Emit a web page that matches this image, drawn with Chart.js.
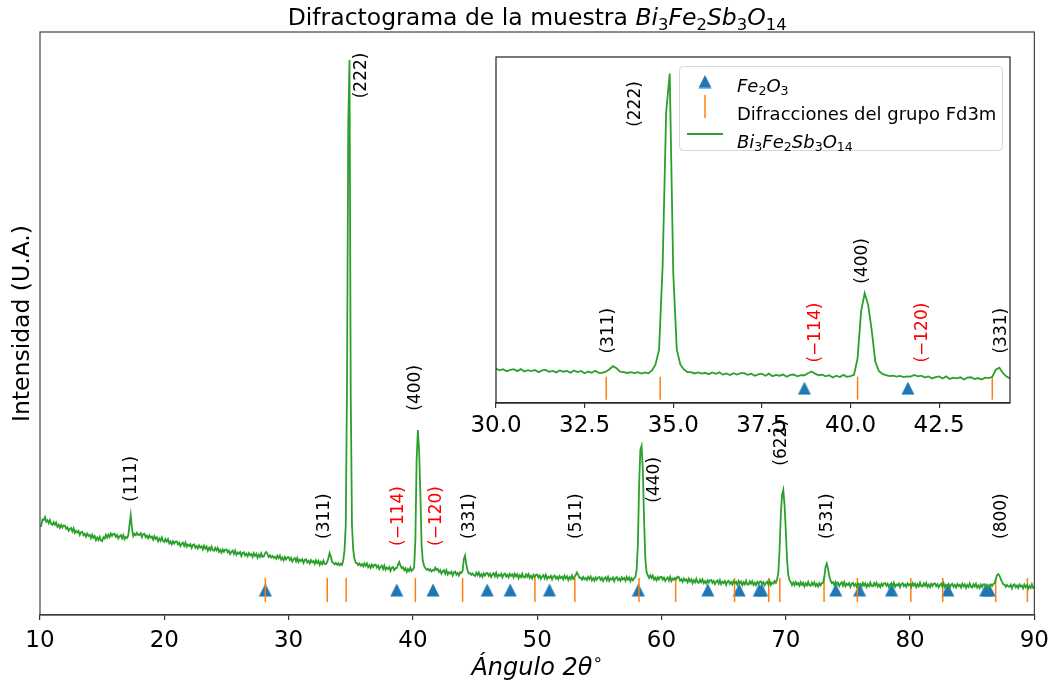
<!DOCTYPE html>
<html lang="es">
<head>
<meta charset="utf-8">
<title>Difractograma Bi3Fe2Sb3O14</title>
<script src="https://cdn.jsdelivr.net/npm/chart.js@4.4.1/dist/chart.umd.min.js"></script>
<style>
  html, body { margin: 0; padding: 0; background: #fff; }
  #lienzo { position: relative; width: 1056px; height: 682px; }
  #principal { position: absolute; left: 0; top: 0; }
  #detalle { position: absolute; left: 456px; top: 40px; }
</style>
</head>
<body>
<div id="lienzo">
  <canvas id="principal" width="1056" height="682"></canvas>
  <canvas id="detalle" width="580" height="400"></canvas>
</div>
<script>
// barrido: 2theta desde 10 hasta 90 grados, paso 0.1
const inicio2theta = 10;
const paso2theta = 0.1;
const cuentas = [
  890, 892, 955, 949, 980, 933, 948, 918, 949, 910,   // 10
  901, 929, 902, 925, 883, 901, 871, 901, 875, 896,   // 11
  895, 863, 878, 842, 861, 871, 835, 866, 822, 841,   // 12
  824, 840, 800, 828, 832, 798, 812, 784, 814, 791,   // 13
  800, 768, 802, 772, 789, 748, 774, 750, 782, 745,   // 14
  738, 778, 765, 802, 774, 804, 780, 814, 790, 811,   // 15
  812, 782, 800, 766, 788, 800, 766, 800, 758, 781,   // 16
  770, 795, 900, 1000, 865, 790, 812, 798, 822, 800,  // 17
  802, 819, 779, 808, 813, 779, 794, 767, 797, 774,   // 18
  785, 754, 789, 760, 778, 738, 765, 742, 775, 738,   // 19
  731, 760, 734, 758, 717, 736, 707, 738, 713, 734,   // 20
  736, 706, 724, 690, 712, 724, 690, 724, 682, 704,   // 21
  690, 708, 670, 700, 706, 674, 690, 664, 696, 674,   // 22
  686, 656, 692, 664, 683, 644, 672, 650, 684, 648,   // 23
  642, 672, 647, 672, 632, 652, 624, 656, 632, 654,   // 24
  656, 626, 644, 610, 632, 644, 610, 644, 602, 624,   // 25
  611, 629, 591, 622, 628, 596, 613, 587, 619, 598,   // 26
  610, 581, 618, 591, 611, 573, 602, 581, 616, 581,   // 27
  584, 615, 630, 612, 580, 596, 576, 590, 572, 584,   // 28
  563, 593, 569, 594, 554, 575, 547, 580, 556, 578,   // 29
  580, 550, 569, 535, 558, 570, 537, 571, 530, 552,   // 30
  539, 557, 520, 550, 557, 525, 542, 516, 549, 527,   // 31
  540, 511, 547, 520, 540, 501, 530, 509, 543, 508,   // 32
  508, 528, 568, 620, 585, 530, 522, 506, 520, 503,   // 33
  518, 496, 514, 500, 548, 650, 900, 2300, 4900, 5550, // 34
  2200, 900, 650, 565, 522, 520, 498, 515, 494, 509,  // 35
  486, 516, 492, 517, 478, 498, 471, 503, 480, 502,   // 36
  504, 474, 492, 459, 481, 493, 459, 494, 452, 474,   // 37
  460, 479, 442, 473, 480, 449, 468, 468, 502, 530,   // 38
  495, 468, 478, 449, 468, 430, 459, 438, 474, 440,   // 39
  452, 475, 750, 1550, 1850, 1650, 1220, 700, 540, 490, // 40
  470, 452, 462, 444, 458, 436, 450, 445, 472, 450,   // 41
  460, 430, 448, 414, 436, 448, 414, 448, 406, 428,   // 42
  414, 433, 396, 427, 434, 403, 420, 395, 428, 420,   // 43
  440, 560, 595, 505, 445, 415, 420, 402, 416, 398,   // 44
  391, 423, 399, 426, 387, 409, 382, 416, 393, 417,   // 45
  420, 392, 412, 380, 404, 418, 386, 421, 381, 404,   // 46
  392, 412, 376, 407, 414, 384, 402, 378, 412, 391,   // 47
  405, 376, 413, 387, 407, 369, 398, 378, 413, 378,   // 48
  374, 406, 383, 408, 371, 392, 366, 400, 378, 401,   // 49
  404, 375, 395, 362, 385, 399, 366, 401, 361, 384,   // 50
  372, 392, 355, 386, 394, 364, 382, 357, 390, 369,   // 51
  383, 355, 393, 367, 387, 349, 379, 359, 395, 360,   // 52
  380, 400, 425, 402, 372, 374, 353, 380, 357, 370,   // 53
  350, 382, 359, 384, 347, 368, 342, 376, 353, 376,   // 54
  380, 352, 372, 340, 364, 378, 346, 382, 342, 366,   // 55
  354, 374, 338, 370, 378, 348, 366, 342, 376, 356,   // 56
  370, 342, 380, 354, 375, 338, 368, 348, 368, 380,   // 57
  450, 700, 1300, 1650, 1690, 1450, 950, 560, 430, 395, // 58
  371, 396, 370, 394, 354, 374, 346, 379, 356, 379,   // 59
  382, 354, 373, 341, 363, 376, 345, 381, 340, 364,   // 60
  352, 372, 360, 384, 378, 343, 358, 332, 364, 343,   // 61
  356, 327, 364, 337, 357, 319, 348, 327, 362, 327,   // 62
  322, 353, 329, 356, 318, 339, 314, 346, 323, 347,   // 63
  350, 322, 341, 309, 332, 346, 313, 349, 309, 332,   // 64
  319, 339, 302, 334, 342, 312, 330, 305, 339, 318,   // 65
  331, 303, 341, 315, 335, 298, 327, 307, 343, 308,   // 66
  304, 336, 313, 339, 301, 323, 297, 331, 308, 332,   // 67
  336, 308, 328, 296, 320, 334, 303, 339, 300, 324,   // 68
  314, 339, 322, 355, 420, 650, 1000, 1200, 1250, 1100, // 69
  850, 560, 400, 348, 330, 300, 324, 298, 330, 305,   // 70
  320, 292, 328, 302, 323, 286, 316, 296, 331, 296,   // 71
  292, 324, 301, 327, 289, 311, 285, 319, 296, 320,   // 72
  322, 380, 480, 515, 460, 390, 345, 318, 328, 300,   // 73
  332, 303, 323, 290, 313, 327, 294, 329, 289, 312,   // 74
  299, 319, 282, 314, 321, 291, 309, 285, 317, 298,   // 75
  312, 284, 321, 295, 316, 279, 308, 288, 324, 290,   // 76
  286, 318, 295, 322, 284, 306, 280, 314, 292, 316,   // 77
  320, 292, 312, 280, 304, 318, 286, 322, 282, 306,   // 78
  294, 314, 278, 310, 318, 288, 306, 282, 316, 296,   // 79
  309, 281, 319, 293, 314, 277, 307, 287, 323, 289,   // 80
  284, 316, 293, 320, 282, 304, 278, 312, 290, 314,   // 81
  316, 288, 308, 276, 300, 314, 282, 318, 278, 302,   // 82
  288, 308, 272, 304, 312, 282, 300, 276, 310, 290,   // 83
  302, 274, 312, 286, 307, 270, 300, 280, 316, 282,   // 84
  276, 308, 285, 312, 274, 296, 270, 304, 282, 306,   // 85
  308, 280, 300, 268, 292, 306, 290, 310, 318, 360,   // 86
  400, 410, 392, 358, 332, 306, 304, 282, 300, 286,   // 87
  282, 302, 266, 298, 306, 276, 294, 270, 304, 284,   // 88
  295, 267, 304, 278, 299, 262, 291, 271, 307, 272,   // 89
  280                                                 // 90
];

// posiciones de referencia (2theta)
const picosFe2O3 = [28.13, 38.7, 41.62, 45.98, 47.83, 50.99, 58.14, 63.73, 66.25, 67.87, 68.06,
                    74.02, 75.94, 78.51, 83.04, 86.08, 86.37];
const picosFd3m = [28.13, 33.11, 34.63, 40.2, 44.0, 49.82, 53.03, 58.19, 61.14, 65.88, 68.63,
                   69.52, 73.08, 75.76, 80.06, 82.63, 86.89, 89.44];
const alturaMarcas = 250;

// indices de Miller sobre el patron completo
const etiquetasPrincipal = ['(111)', '(222)', '(311)', '(−114)', '(−120)', '(400)',
                            '(331)', '(511)', '(440)', '(622)', '(531)', '(800)'];
const anguloEtiquetasPrincipal = [17.37, 35.9, 32.92, 38.88, 41.9, 40.18, 44.6, 53.15, 59.48, 69.7, 73.35, 87.37];
const alturaEtiquetasPrincipal = [1133, 5167, 760, 690, 690, 2043, 760, 760, 1123, 1493, 760, 760];

// indices en el detalle 30-44.5
const etiquetasDetalle = ['(222)', '(311)', '(−114)', '(400)', '(−120)', '(331)'];
const anguloEtiquetasDetalle = [33.95, 33.17, 39.02, 40.33, 42.04, 44.27];
const alturaEtiquetasDetalle = [4653, 833, 681, 2010, 681, 833];

const etiquetasRojas = ['(−114)', '(−120)'];

const verde = '#2ca02c', naranja = '#ff7f0e', azul = '#1f77b4';
const FUENTE = '"DejaVu Sans"';

const patron = cuentas.map((c, i) => ({ x: +(inicio2theta + i * paso2theta).toFixed(1), y: c }));
const marcasFe = picosFe2O3.map(v => ({ x: v, y: alturaMarcas }));
const marcasFd = picosFd3m.map(v => ({ x: v, y: alturaMarcas }));

// triangulo tipo '^' de matplotlib (ancho = alto)
const triangulo = document.createElement('canvas');
triangulo.width = 14; triangulo.height = 14;
(function () {
  const c = triangulo.getContext('2d');
  c.fillStyle = azul;
  c.beginPath();
  c.moveTo(7, 0.5); c.lineTo(13.5, 13.5); c.lineTo(0.5, 13.5);
  c.closePath(); c.fill();
})();

function textoCompuesto(ctx, partes, x, y, size, centrar) {
  const fuente = p => (p.it ? 'italic ' : '') + ((p.sub || p.sup) ? size * 0.7 : size) + 'px ' + FUENTE;
  let ancho = 0;
  partes.forEach(p => { ctx.font = fuente(p); ancho += ctx.measureText(p.t).width; });
  let cx = centrar ? x - ancho / 2 : x;
  ctx.textAlign = 'left';
  ctx.textBaseline = 'alphabetic';
  partes.forEach(p => {
    ctx.font = fuente(p);
    const dy = p.sub ? size * 0.22 : (p.sup ? -size * 0.42 : 0);
    ctx.fillText(p.t, cx, y + dy);
    cx += ctx.measureText(p.t).width;
  });
}

function vertical(ctx, texto, px, py, size, color, alinear) {
  ctx.save();
  ctx.translate(px, py);
  ctx.rotate(-Math.PI / 2);
  ctx.font = size + 'px ' + FUENTE;
  ctx.fillStyle = color;
  ctx.textAlign = alinear || 'left';
  ctx.textBaseline = 'middle';
  ctx.fillText(texto, 0, 0);
  ctx.restore();
}

const formula = [
  { t: 'Bi', it: true }, { t: '3', sub: true }, { t: 'Fe', it: true }, { t: '2', sub: true },
  { t: 'Sb', it: true }, { t: '3', sub: true }, { t: 'O', it: true }, { t: '14', sub: true }
];
const titulo = [{ t: 'Difractograma de la muestra ' }].concat(formula);
const tituloX = [{ t: 'Ángulo 2θ', it: true }, { t: '∘', sup: true }];

function conjuntos(radioLinea) {
  return [
    { data: patron, showLine: true, borderColor: verde, borderWidth: 1.8, pointRadius: 0, order: 0 },
    { data: marcasFd, showLine: false, pointStyle: 'line', pointRotation: 90, pointRadius: radioLinea,
      pointBorderColor: naranja, pointBorderWidth: 1.5, pointBackgroundColor: naranja, order: 1 },
    { data: marcasFe, showLine: false, pointStyle: triangulo, pointRadius: 7, order: 2 }
  ];
}

function ejeX(min, max, paso, tam, alto, sep, formato) {
  return {
    type: 'linear', min: min, max: max,
    ticks: { stepSize: paso, includeBounds: false, maxRotation: 0, autoSkip: false,
             font: { family: 'DejaVu Sans', size: tam }, color: '#000', padding: sep,
             callback: formato },
    grid: { display: true, drawOnChartArea: false, drawTicks: true, tickLength: 5, color: '#333', lineWidth: 1.2 },
    border: { display: true, color: '#333', width: 1.2 },
    afterFit: s => { s.height = alto; }
  };
}

const decoracionPrincipal = {
  id: 'decoracionPrincipal',
  afterDraw(chart) {
    const { ctx, chartArea: a } = chart;
    const x = chart.scales.x, y = chart.scales.y;
    ctx.save();
    ctx.strokeStyle = '#444';
    ctx.lineWidth = 1.2;
    ctx.strokeRect(a.left, a.top, a.right - a.left, a.bottom - a.top);
    etiquetasPrincipal.forEach((t, i) => {
      vertical(ctx, t, x.getPixelForValue(anguloEtiquetasPrincipal[i]),
               y.getPixelForValue(alturaEtiquetasPrincipal[i]), 17,
               etiquetasRojas.includes(t) ? '#ff0000' : '#000');
    });
    ctx.fillStyle = '#000';
    textoCompuesto(ctx, titulo, (a.left + a.right) / 2, 25, 23.5, true);
    ctx.fillStyle = '#000';
    textoCompuesto(ctx, tituloX, (a.left + a.right) / 2, 675, 24, true);
    vertical(ctx, 'Intensidad (U.A.)', 23, (a.top + a.bottom) / 2, 23.5, '#000', 'center');
    ctx.restore();
  }
};

const decoracionDetalle = {
  id: 'decoracionDetalle',
  beforeDraw(chart) {
    const { ctx, chartArea: a } = chart;
    ctx.save();
    ctx.fillStyle = '#fff';
    ctx.fillRect(a.left, a.top, a.right - a.left, a.bottom - a.top);
    ctx.restore();
  },
  afterDraw(chart) {
    const { ctx, chartArea: a } = chart;
    const x = chart.scales.x, y = chart.scales.y;
    ctx.save();
    ctx.strokeStyle = '#222';
    ctx.lineWidth = 1.2;
    ctx.strokeRect(a.left, a.top, a.right - a.left, a.bottom - a.top);
    etiquetasDetalle.forEach((t, i) => {
      vertical(ctx, t, x.getPixelForValue(anguloEtiquetasDetalle[i]),
               y.getPixelForValue(alturaEtiquetasDetalle[i]), 17,
               etiquetasRojas.includes(t) ? '#ff0000' : '#000');
    });

    // leyenda
    const lx = a.right - 331, ly = a.top + 9, lw = 323, lh = 84;
    ctx.fillStyle = 'rgba(255,255,255,0.8)';
    ctx.strokeStyle = '#d6d6d6';
    ctx.lineWidth = 1;
    ctx.beginPath();
    ctx.roundRect(lx + 0.5, ly + 0.5, lw, lh, 4);
    ctx.fill(); ctx.stroke();
    const sx = lx + 26, tx = lx + 58;
    ctx.drawImage(triangulo, sx - 7, ly + 15.5 - 7);
    ctx.strokeStyle = naranja; ctx.lineWidth = 1.5;
    ctx.beginPath(); ctx.moveTo(sx, ly + 29); ctx.lineTo(sx, ly + 52); ctx.stroke();
    ctx.strokeStyle = verde; ctx.lineWidth = 1.8;
    ctx.beginPath(); ctx.moveTo(lx + 8, ly + 68); ctx.lineTo(lx + 44, ly + 68); ctx.stroke();
    ctx.fillStyle = '#000';
    textoCompuesto(ctx, [{ t: 'Fe', it: true }, { t: '2', sub: true }, { t: 'O', it: true }, { t: '3', sub: true }],
                   tx, ly + 25.5, 18, false);
    textoCompuesto(ctx, [{ t: 'Difracciones del grupo Fd3m' }], tx, ly + 53.5, 18, false);
    textoCompuesto(ctx, formula, tx, ly + 81.5, 18, false);
    ctx.restore();
  }
};

const comunes = {
  responsive: false,
  animation: false,
  devicePixelRatio: 1,
  events: [],
  plugins: { legend: { display: false }, tooltip: { enabled: false } }
};

new Chart(document.getElementById('principal'), {
  type: 'scatter',
  data: { datasets: conjuntos(12) },
  options: Object.assign({}, comunes, {
    layout: { padding: { left: 40, right: 19, top: 32, bottom: 0 } },
    scales: {
      x: ejeX(10, 90, 10, 23, 67, 7, v => v),
      y: { min: 0, max: 5830, display: false }
    }
  }),
  plugins: [decoracionPrincipal]
});

new Chart(document.getElementById('detalle'), {
  type: 'scatter',
  data: { datasets: conjuntos(11.5) },
  options: Object.assign({}, comunes, {
    layout: { padding: { left: 40, right: 26, top: 17, bottom: 0 } },
    scales: {
      x: ejeX(30, 44.5, 2.5, 23, 37, 4, v => v.toFixed(1)),
      y: { min: 0, max: 5830, display: false }
    }
  }),
  plugins: [decoracionDetalle]
});
</script>
</body>
</html>
